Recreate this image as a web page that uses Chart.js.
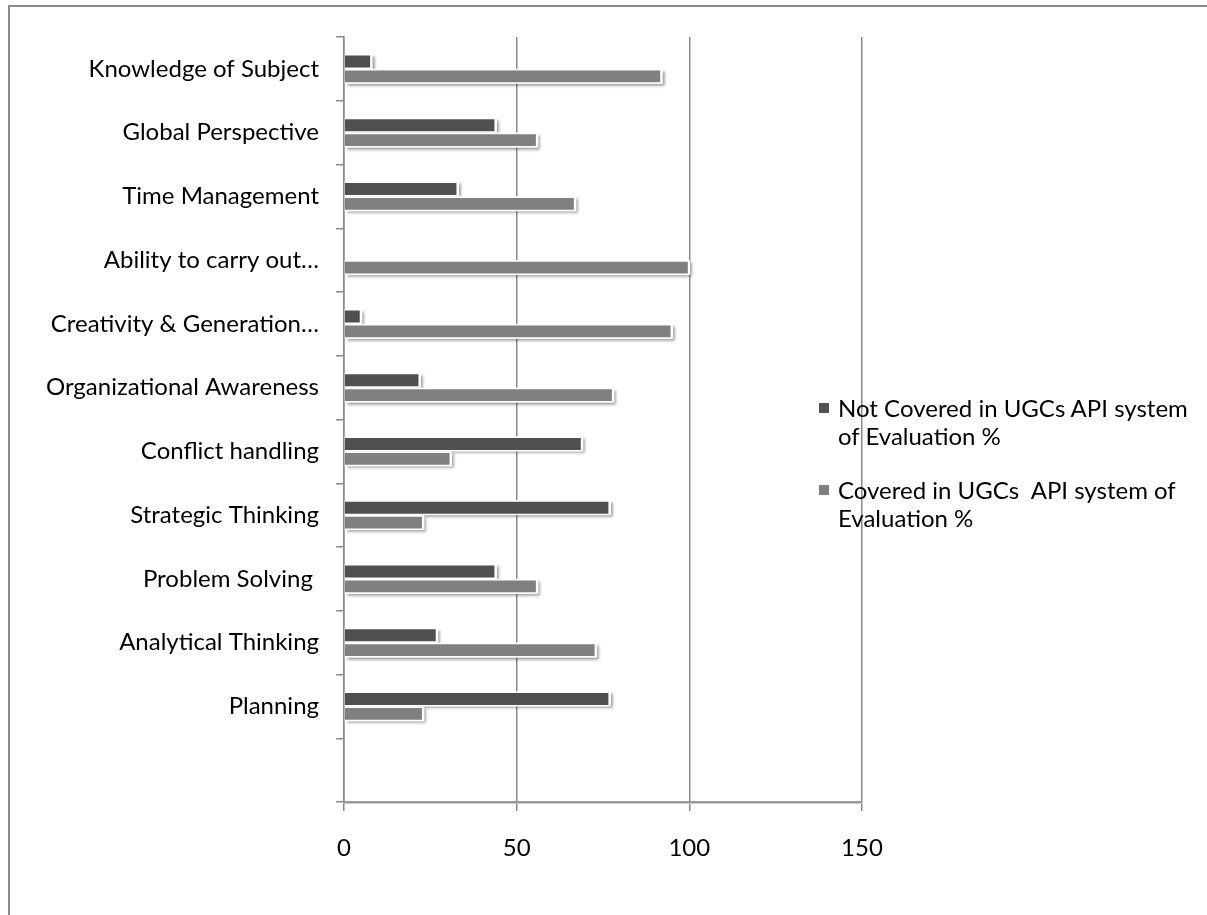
<!DOCTYPE html>
<html>
<head>
<meta charset="utf-8">
<script src="https://cdn.jsdelivr.net/npm/chart.js@4.4.0/dist/chart.umd.min.js"></script>
<style>
  body { margin: 0; background: #fff; font-family: Lato, sans-serif; }
  .wrap { position: relative; width: 1207px; height: 915px; overflow: hidden; }
  .frame { position: absolute; left: 8px; top: 5px; right: -10px; bottom: -10px;
           border-left: 2px solid #8a8a8a; border-top: 2px solid #8a8a8a; }
  .legend { position: absolute; left: 819px; top: 394px; font-size: 24px; line-height: 28px; color: #000; }
  .legend .item { position: relative; padding-left: 19px; margin-bottom: 26px; white-space: pre; }
  .legend .box { position: absolute; left: 0; top: 9px; width: 10px; height: 10px; }
</style>
</head>
<body>
<div class="wrap">
  <div class="frame"></div>
  <canvas id="skillsChart"></canvas>
  <div class="legend" id="legend"></div>
</div>
<script>
// chart data
const categories = [
  "Knowledge of Subject",
  "Global Perspective",
  "Time Management",
  "Ability to carry out…",
  "Creativity & Generation…",
  "Organizational Awareness",
  "Conflict handling",
  "Strategic Thinking",
  "Problem Solving ",
  "Analytical Thinking",
  "Planning",
  ""
];
const notCovered = [8, 44, 33, 0, 5, 22, 69, 77, 44, 27, 77, null];
const covered = [92, 56, 67, 100, 95, 78, 31, 23, 56, 73, 23, null];
const xTicks = [0, 50, 100, 150];
const seriesNames = [
  ["Not Covered in UGCs API system", "of Evaluation %"],
  ["Covered in UGCs  API system of", "Evaluation %"]
];
const seriesColors = ["#505050", "#808080"];

const gridGray = "#8a8a8a";
const fontSpec = { family: "Lato", size: 24 };

// white outline + drop shadow under bars
const barShadow = {
  id: "barShadow",
  beforeDatasetsDraw(chart) {
    const c = chart.ctx;
    c.save();
    c.fillStyle = "#fff";
    c.shadowColor = "rgba(0,0,0,0.45)";
    c.shadowBlur = 3;
    c.shadowOffsetX = 2;
    c.shadowOffsetY = 2;
    chart.data.datasets.forEach((ds, i) => {
      chart.getDatasetMeta(i).data.forEach((bar, j) => {
        if (ds.data[j] == null || ds.data[j] === 0) return;
        const w = bar.x - bar.base;
        c.fillRect(bar.base, bar.y - bar.height / 2, w + 1, bar.height);
      });
    });
    c.restore();
  }
};

const ctx = document.getElementById("skillsChart").getContext("2d");

const skillsChart = new Chart(ctx, {
  type: "bar",
  data: {
    labels: categories,
    datasets: [
      {
        label: seriesNames[0].join(" "),
        data: notCovered,
        backgroundColor: seriesColors[0],
        borderColor: "#fff",
        borderWidth: 1.5,
        categoryPercentage: 0.47,
        barPercentage: 1.0
      },
      {
        label: seriesNames[1].join(" "),
        data: covered,
        backgroundColor: seriesColors[1],
        borderColor: "#fff",
        borderWidth: 1.5,
        categoryPercentage: 0.47,
        barPercentage: 1.0
      }
    ]
  },
  options: {
    indexAxis: "y",
    responsive: true,
    maintainAspectRatio: false,
    animation: false,
    layout: { padding: { left: 0, top: 37, right: 345, bottom: 0 } },
    scales: {
      x: {
        min: 0,
        max: 150,
        afterBuildTicks: (scale) => {
          scale.ticks = xTicks.map((v) => ({ value: v }));
        },
        afterFit: (scale) => { scale.height = 113; },
        grid: { color: gridGray, lineWidth: 1.5, tickLength: 9 },
        border: { color: "#9a9a9a", width: 2.5 },
        ticks: { color: "#000", font: fontSpec, padding: 23, maxRotation: 0 }
      },
      y: {
        afterFit: (scale) => { scale.width = 344; },
        grid: { display: true, drawOnChartArea: false, color: gridGray, lineWidth: 1.5, tickLength: 8, offset: true },
        border: { color: gridGray, width: 1.5 },
        ticks: { color: "#000", font: fontSpec, padding: 17, autoSkip: false }
      }
    },
    plugins: {
      legend: { display: false },
      tooltip: { enabled: false }
    }
  },
  plugins: [barShadow]
});

// legend with wrapped text
const legendBox = document.getElementById("legend");
seriesNames.forEach((lines, i) => {
  const item = document.createElement("div");
  item.className = "item";
  item.innerHTML = '<span class="box" style="background:' + seriesColors[i] + '"></span>' + lines.join("\n");
  legendBox.appendChild(item);
});
</script>
</body>
</html>
